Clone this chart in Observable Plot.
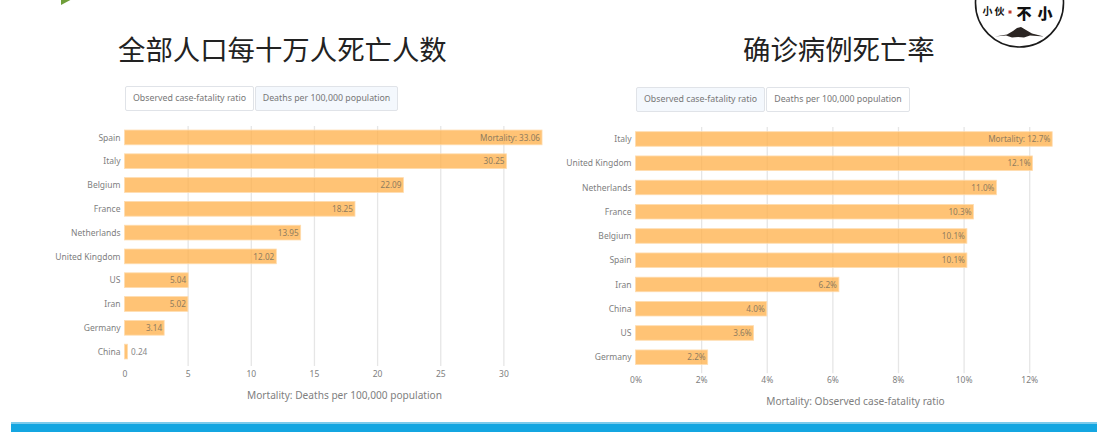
<!DOCTYPE html>
<html>
<head>
<meta charset="utf-8">
<script src="https://cdn.jsdelivr.net/npm/d3@7"></script>
<script src="https://cdn.jsdelivr.net/npm/@observablehq/plot@0.6"></script>
<style>
  html, body { margin: 0; padding: 0; background: #fff; }
  #page { position: relative; width: 1097px; height: 432px; overflow: hidden; font-family: "Noto Sans", sans-serif; }
  .heading { position: absolute; font-family: "Noto Sans CJK SC", sans-serif; font-size: 27.4px; line-height: 34px; color: #222; white-space: nowrap; }
  .tab { position: absolute; box-sizing: border-box; height: 25px; line-height: 23px; text-align: center; font-size: 8.8px; color: #777; border: 1px solid #e0e3e8; border-radius: 2px; background: #fff; white-space: nowrap; }
  .tab.on { background: #f4f8fd; }
  .chart { position: absolute; }
  #band { position: absolute; left: 11px; right: 0; top: 422px; height: 10px; background: #14a6e1; border-top: 2px solid #7ccbec; box-sizing: border-box; }
  #corner { position: absolute; left: 60px; top: -6px; }
  #seal { position: absolute; left: 974px; top: -12px; }
  #seal text { font-family: "Noto Sans CJK SC", sans-serif; fill: #111; text-anchor: middle; }
</style>
</head>
<body>
<div id="page">
  <svg id="corner" width="18" height="12"><path d="M1 0L16 3L1 11Z" fill="#6f9e3a"/></svg>
  <div class="heading" style="left:118px;top:31px">全部人口每十万人死亡人数</div>
  <div class="heading" style="left:743px;top:31px">确诊病例死亡率</div>
  <div class="tab" style="left:125px;top:86px;width:129px">Observed case-fatality ratio</div>
  <div class="tab on" style="left:255px;top:86px;width:143px">Deaths per 100,000 population</div>
  <div class="tab on" style="left:636px;top:87px;width:129px">Observed case-fatality ratio</div>
  <div class="tab" style="left:766px;top:87px;width:144px">Deaths per 100,000 population</div>
  <svg id="seal" width="92" height="62" viewBox="0 0 92 62">
    <circle cx="45.5" cy="15" r="44" fill="#fff" stroke="#1a1a1a" stroke-width="1.6"/>
    <text x="13.5" y="27" font-size="10" font-weight="700">小</text>
    <text x="25.5" y="27" font-size="10" font-weight="700">伙</text>
    <rect x="34.5" y="22.5" width="3" height="3" fill="#c0392b"/>
    <text x="50" y="31" font-size="15" font-weight="900">不</text>
    <text x="71" y="31" font-size="15" font-weight="900">小</text>
    <path d="M21 48.5L33 46.5L39 43L43 40L47 39L52 42L58 45.5L70 48.5L56 47.5L50 49.5L44 49L38 49.5L32 47.5Z" fill="#2a2422"/>
  </svg>
  <div id="left" class="chart" style="left:0;top:120px"></div>
  <div id="right" class="chart" style="left:511px;top:121px"></div>
  <div id="band"></div>
</div>
<script>
// Deaths per 100,000 population, by country
const populationCountries = ["Spain", "Italy", "Belgium", "France", "Netherlands", "United Kingdom", "US", "Iran", "Germany", "China"];
const populationDeaths = [33.06, 30.25, 22.09, 18.25, 13.95, 12.02, 5.04, 5.02, 3.14, 0.24];
const populationTicks = [0, 5, 10, 15, 20, 25, 30];

// Observed case-fatality ratio (percent), by country
const fatalityCountries = ["Italy", "United Kingdom", "Netherlands", "France", "Belgium", "Spain", "Iran", "China", "US", "Germany"];
const fatalityRatio = [12.7, 12.1, 11.0, 10.3, 10.1, 10.1, 6.2, 4.0, 3.6, 2.2];
const fatalityTicks = [0, 2, 4, 6, 8, 10, 12];

const barFill = "#ffb04a";
const inkColor = "#808080";

function mortalityChart({countries, values, ticks, xMax, width, height, plotBottom, padding, ruleTop, ruleBottom, label, tickFormat, valueFormat, insideFrom}) {
  const rows = countries.map((country, i) => ({country, value: values[i], first: i === 0}));
  return Plot.plot({
    width, height, marginLeft: 124.5, marginRight: 0, marginTop: 1, marginBottom: height - plotBottom,
    style: {fontFamily: "'Noto Sans', sans-serif", fontSize: "8.5px", color: inkColor, background: "transparent"},
    x: {domain: [0, xMax]},
    y: {domain: countries, padding, round: false},
    marks: [
      Plot.ruleX(ticks.slice(1), {stroke: "#e6e6e6", strokeWidth: 1.3, insetTop: ruleTop, insetBottom: ruleBottom}),
      Plot.barX(rows, {x: "value", y: "country", fill: barFill, fillOpacity: 0.76, stroke: "#ffdcae", strokeWidth: 0.8}),
      Plot.text(rows, {
        filter: d => d.value >= insideFrom, x: "value", y: "country", dx: -2.5, textAnchor: "end", fill: "#8f7c5e", fontSize: 8.2,
        text: d => (d.first ? "Mortality: " : "") + valueFormat(d.value)
      }),
      Plot.text(rows, {
        filter: d => d.value < insideFrom, x: "value", y: "country", dx: 3, textAnchor: "start", fill: "#888", fontSize: 8.2,
        text: d => valueFormat(d.value)
      }),
      Plot.axisY({tickSize: 0, tickPadding: 4.5, label: null, fontSize: 8.5, textStroke: "none"}),
      Plot.axisX({ticks, tickFormat, tickSize: 0, tickPadding: 2, fontSize: 8.5, label: null}),
      // Axis title, set larger than the tick labels
      Plot.text([label], {frameAnchor: "bottom", dy: 27, lineAnchor: "middle", fontSize: 10.15, fill: inkColor})
    ]
  });
}

document.getElementById("left").append(mortalityChart({
  countries: populationCountries, values: populationDeaths, ticks: populationTicks,
  xMax: 34.76, width: 563.5, height: 285, plotBottom: 248, padding: 0.38, ruleTop: 5, ruleBottom: 2,
  label: "Mortality: Deaths per 100,000 population",
  tickFormat: d => String(d), valueFormat: d => d.toFixed(2), insideFrom: 1
}));

document.getElementById("right").append(mortalityChart({
  countries: fatalityCountries, values: fatalityRatio, ticks: fatalityTicks,
  xMax: 13.38, width: 563.5, height: 292, plotBottom: 253.2, padding: 0.4, ruleTop: 5, ruleBottom: 1,
  label: "Mortality: Observed case-fatality ratio",
  tickFormat: d => d + "%", valueFormat: d => d.toFixed(1) + "%", insideFrom: 1
}));
</script>
</body>
</html>
